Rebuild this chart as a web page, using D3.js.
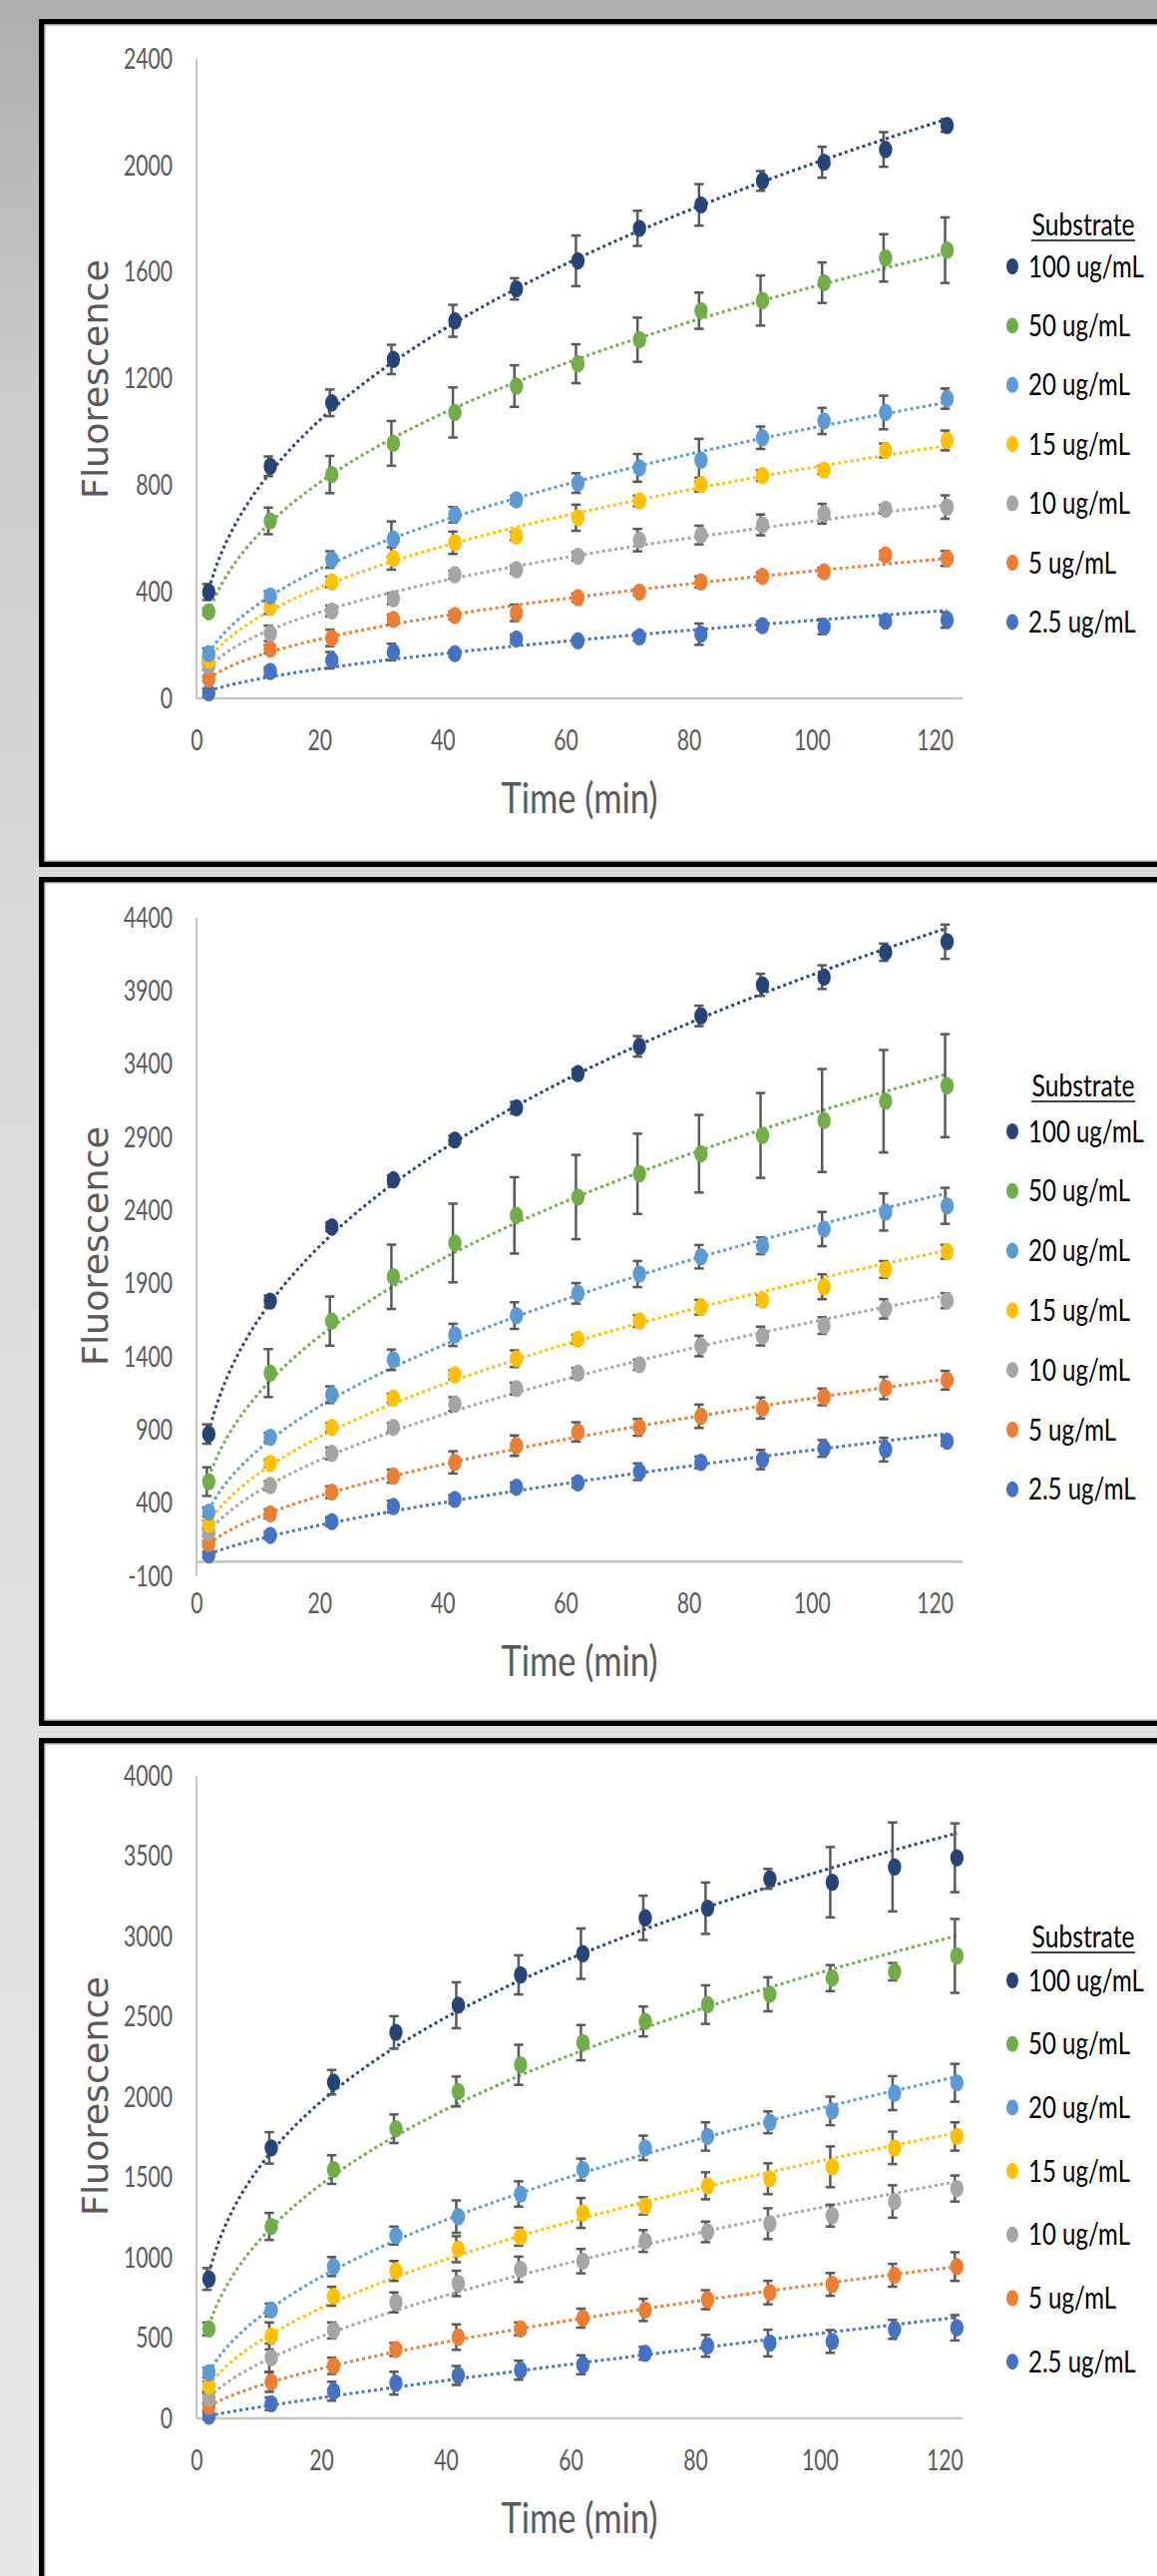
<!DOCTYPE html>
<html>
<head>
<meta charset="utf-8">
<script src="https://cdn.jsdelivr.net/npm/d3@7"></script>
<style>
  body { margin: 0; background: #d9d9d9; }
  svg { display: block; }
</style>
</head>
<body>
<svg id="chart"></svg>
<script>
// sampling times (min) and axis ticks
const times = [2, 12, 22, 32, 42, 52, 62, 72, 82, 92, 102, 112, 122];
const xTicks = [0, 20, 40, 60, 80, 100, 120];
const yTicks1 = [0, 400, 800, 1200, 1600, 2000, 2400];
const yTicks2 = [-100, 400, 900, 1400, 1900, 2400, 2900, 3400, 3900, 4400];
const yTicks3 = [0, 500, 1000, 1500, 2000, 2500, 3000, 3500, 4000];
const seriesNames = ['100 ug/mL', '50 ug/mL', '20 ug/mL', '15 ug/mL', '10 ug/mL', '5 ug/mL', '2.5 ug/mL'];
const seriesColors = ['#264478', '#70AD47', '#5B9BD5', '#FFC000', '#A5A5A5', '#ED7D31', '#4472C4'];

// panel 1 means / error
const p1_100 = [399, 871, 1109, 1272, 1417, 1537, 1642, 1764, 1852, 1942, 2012, 2060, 2150];
const p1_100e = [30, 37, 50, 55, 60, 40, 95, 66, 78, 37, 58, 65, 24];
const p1_50 = [325, 666, 840, 957, 1073, 1172, 1256, 1346, 1455, 1493, 1560, 1653, 1682];
const p1_50e = [12, 50, 70, 84, 94, 78, 73, 83, 68, 94, 76, 89, 123];
const p1_20 = [168, 384, 521, 598, 689, 745, 808, 865, 894, 978, 1041, 1073, 1125];
const p1_20e = [20, 18, 31, 66, 29, 15, 37, 52, 80, 42, 49, 63, 38];
const p1_15 = [143, 342, 437, 525, 584, 609, 678, 741, 802, 836, 857, 930, 968];
const p1_15e = [15, 25, 20, 42, 42, 15, 49, 20, 26, 20, 15, 26, 37];
const p1_10 = [122, 244, 328, 374, 464, 483, 533, 594, 613, 651, 693, 710, 718];
const p1_10e = [15, 29, 20, 20, 15, 15, 15, 42, 35, 39, 37, 16, 44];
const p1_5 = [73, 185, 227, 296, 311, 321, 378, 399, 437, 458, 475, 538, 525];
const p1_5e = [10, 15, 31, 18, 15, 31, 15, 12, 21, 15, 15, 15, 28];
const p1_25 = [21, 101, 143, 174, 168, 223, 216, 231, 241, 273, 269, 290, 294];
const p1_25e = [15, 15, 31, 31, 12, 15, 12, 15, 40, 15, 28, 12, 29];

// panel 2
const p2_100 = [872, 1781, 2288, 2610, 2882, 3102, 3336, 3522, 3730, 3942, 3995, 4165, 4237];
const p2_100e = [66, 38, 30, 30, 30, 40, 30, 70, 70, 76, 81, 59, 117];
const p2_50 = [547, 1289, 1644, 1947, 2178, 2367, 2492, 2651, 2788, 2913, 3015, 3147, 3253];
const p2_50e = [98, 164, 168, 220, 269, 261, 288, 274, 265, 290, 352, 350, 352];
const p2_20 = [339, 850, 1141, 1380, 1550, 1682, 1834, 1966, 2084, 2159, 2273, 2390, 2432];
const p2_20e = [30, 30, 57, 70, 76, 91, 70, 89, 80, 57, 117, 127, 123];
const p2_15 = [255, 672, 918, 1118, 1277, 1387, 1520, 1645, 1739, 1788, 1879, 1997, 2118];
const p2_15e = [25, 25, 30, 30, 30, 57, 30, 40, 50, 30, 85, 57, 47];
const p2_10 = [199, 520, 740, 918, 1077, 1183, 1289, 1346, 1474, 1542, 1614, 1728, 1784];
const p2_10e = [25, 30, 40, 30, 47, 40, 35, 35, 70, 64, 57, 66, 51];
const p2_5 = [123, 327, 475, 585, 679, 793, 887, 918, 994, 1050, 1126, 1187, 1240];
const p2_5e = [20, 30, 40, 45, 76, 70, 66, 57, 80, 72, 57, 76, 64];
const p2_25 = [47, 180, 274, 377, 426, 509, 539, 615, 679, 698, 774, 766, 823];
const p2_25e = [20, 25, 30, 40, 30, 30, 30, 57, 40, 66, 57, 81, 30];

// panel 3
const p3_100 = [868, 1684, 2093, 2403, 2572, 2761, 2893, 3116, 3176, 3359, 3338, 3433, 3490];
const p3_100e = [68, 98, 76, 101, 143, 122, 157, 138, 160, 62, 219, 277, 214];
const p3_50 = [557, 1195, 1549, 1803, 2035, 2201, 2339, 2471, 2576, 2640, 2741, 2781, 2879];
const p3_50e = [40, 84, 89, 89, 93, 125, 110, 93, 120, 106, 81, 54, 230];
const p3_20 = [284, 675, 945, 1138, 1256, 1397, 1549, 1684, 1755, 1843, 1914, 2025, 2089];
const p3_20e = [30, 40, 59, 56, 101, 79, 68, 76, 88, 68, 89, 106, 118];
const p3_15 = [199, 513, 760, 918, 1053, 1131, 1279, 1323, 1448, 1492, 1566, 1684, 1755];
const p3_15e = [30, 84, 59, 62, 81, 56, 93, 54, 84, 96, 127, 101, 88];
const p3_10 = [125, 378, 547, 722, 840, 928, 979, 1104, 1161, 1212, 1262, 1350, 1431];
const p3_10e = [30, 88, 50, 62, 79, 79, 76, 68, 64, 96, 68, 101, 81];
const p3_5 = [74, 226, 327, 429, 506, 557, 624, 675, 739, 783, 834, 891, 945];
const p3_5e = [25, 61, 51, 40, 79, 40, 59, 69, 59, 73, 71, 71, 89];
const p3_25 = [14, 91, 169, 219, 267, 300, 334, 405, 452, 469, 479, 554, 564];
const p3_25e = [20, 40, 59, 71, 59, 59, 59, 40, 68, 83, 71, 59, 79];

const W = 1160, H = 2582;
const FONT = 'Lato, "Open Sans", sans-serif';
const TITLE_FONT = '"DejaVu Sans", Verdana, sans-serif';

const panels = [
    { top: 19, bottom: 869, yDomain: [0, 2400], yRange: [700, 59], yTicks: yTicks1, xMax: 124.5,
      values: [p1_100, p1_50, p1_20, p1_15, p1_10, p1_5, p1_25],
      errors: [p1_100e, p1_50e, p1_20e, p1_15e, p1_10e, p1_5e, p1_25e],
      yTitleY: 380, legTitleY: 236, legY0: 267, legStep: 59.4 },
    { top: 879, bottom: 1730, yDomain: [-100, 4400], yRange: [1580, 920], yTicks: yTicks2, xMax: 124.5,
      values: [p2_100, p2_50, p2_20, p2_15, p2_10, p2_5, p2_25],
      errors: [p2_100e, p2_50e, p2_20e, p2_15e, p2_10e, p2_5e, p2_25e],
      yTitleY: 1249, legTitleY: 1099, legY0: 1134, legStep: 59.8 },
    { top: 1742, bottom: 2700, yDomain: [0, 4000], yRange: [2424, 1780], yTicks: yTicks3, xMax: 122.9,
      values: [p3_100, p3_50, p3_20, p3_15, p3_10, p3_5, p3_25],
      errors: [p3_100e, p3_50e, p3_20e, p3_15e, p3_10e, p3_5e, p3_25e],
      yTitleY: 2101, legTitleY: 1952, legY0: 1985, legStep: 63.7 }
];

const svg = d3.select('#chart').attr('width', W).attr('height', H);

// background
const grad = svg.append('defs').append('linearGradient').attr('id', 'bg')
    .attr('x1', 0).attr('y1', 0).attr('x2', 0).attr('y2', 1);
[[0, '#adadad'], [0.15, '#cbcbcb'], [0.35, '#d9d9d9'], [0.7, '#e1e1e1'], [1, '#e9e9e9']]
    .forEach(([o, c]) => grad.append('stop').attr('offset', o).attr('stop-color', c));
svg.append('rect').attr('width', W).attr('height', H).attr('fill', 'url(#bg)');

// width of a string in a given font, used to squeeze text like the narrow original
function measure(str, size, family) {
    const t = svg.append('text').attr('font-family', family).attr('font-size', size).text(str);
    const w = t.node().getComputedTextLength();
    t.remove();
    return w;
}
const kTick = 49 / measure('2400', 29, FONT);
const kLeg = 116 / measure('100 ug/mL', 30, FONT);
const kSub = 103 / measure('Substrate', 30, FONT);
const kTime = 157 / measure('Time (min)', 42, FONT);

function squeeze(sel, k) {
    sel.each(function () {
        const n = this.getComputedTextLength();
        d3.select(this).attr('textLength', n * k).attr('lengthAdjust', 'spacingAndGlyphs');
    });
}

function powerFit(xs, ys) {
    const lx = xs.map(Math.log), ly = ys.map(v => Math.log(Math.max(v, 1)));
    const mx = d3.mean(lx), my = d3.mean(ly);
    const b = d3.sum(lx, (v, i) => (v - mx) * (ly[i] - my)) / d3.sum(lx, v => (v - mx) * (v - mx));
    const a = Math.exp(my - b * mx);
    return x => a * Math.pow(x, b);
}

panels.forEach(p => {
    // frame
    svg.append('rect').attr('x', 41.75).attr('y', p.top + 2.75).attr('width', 1200)
        .attr('height', p.bottom - p.top - 5.5).attr('fill', '#fff')
        .attr('stroke', '#000').attr('stroke-width', 5.5);
    svg.append('rect').attr('x', 45.5).attr('y', p.top + 6.5).attr('width', 1200)
        .attr('height', p.bottom - p.top - 13).attr('fill', 'none')
        .attr('stroke', '#d4d4d4').attr('stroke-width', 1.5);

    const x = d3.scaleLinear().domain([0, p.xMax]).range([197, 965]);
    const y = d3.scaleLinear().domain(p.yDomain).range(p.yRange);
    const g = svg.append('g');

    // y axis
    const ya = g.append('g').attr('transform', 'translate(197,0)')
        .call(d3.axisLeft(y).tickValues(p.yTicks).tickSize(0).tickPadding(24).tickFormat(d => String(d)));
    ya.select('.domain').remove();
    ya.selectAll('text').attr('font-family', FONT).attr('font-size', 29).attr('fill', '#595959')
        .call(squeeze, kTick);
    g.append('line').attr('x1', 197).attr('x2', 197).attr('y1', p.yRange[1]).attr('y2', p.yRange[0])
        .attr('stroke', '#c6c6c6').attr('stroke-width', 2);

    // x axis at zero
    const y0 = y(0);
    const xa = g.append('g').attr('transform', `translate(0,${y0})`)
        .call(d3.axisBottom(x).tickValues(xTicks).tickSize(0).tickPadding(31.5));
    xa.select('.domain').remove();
    xa.selectAll('text').attr('font-family', FONT).attr('font-size', 29).attr('fill', '#595959')
        .call(squeeze, kTick);
    g.append('line').attr('x1', 197).attr('x2', 965).attr('y1', y0).attr('y2', y0)
        .attr('stroke', '#c6c6c6').attr('stroke-width', 2.6);

    // axis titles
    g.append('text').attr('x', 581).attr('y', y0 + 115).attr('text-anchor', 'middle')
        .attr('font-family', FONT).attr('font-size', 42).attr('fill', '#595959')
        .text('Time (min)').call(squeeze, kTime);
    g.append('text').attr('transform', `translate(108,${p.yTitleY}) rotate(-90)`)
        .attr('text-anchor', 'middle').attr('font-family', TITLE_FONT).attr('font-size', 35)
        .attr('fill', '#595959').attr('textLength', 240).attr('lengthAdjust', 'spacingAndGlyphs')
        .text('Fluorescence');

    // power trendlines (dotted)
    const line = d3.line().x(d => x(d[0])).y(d => y(d[1]));
    const xs = d3.range(2, 122.001, 0.5);
    p.values.forEach((vals, si) => {
        const f = powerFit(times, vals);
        g.append('path').attr('d', line(xs.map(t => [t, f(t)])))
            .attr('fill', 'none').attr('stroke', seriesColors[si]).attr('stroke-width', 3)
            .attr('stroke-dasharray', '3 3.2');
    });

    // error bars (Excel draws them a hair left of the markers)
    p.values.forEach((vals, si) => {
        const eg = g.append('g').attr('stroke', '#595959').attr('stroke-width', 2.5);
        vals.forEach((v, i) => {
            const e = p.errors[si][i], cx = x(times[i]) - 2;
            eg.append('line').attr('x1', cx).attr('x2', cx).attr('y1', y(v - e)).attr('y2', y(v + e));
            eg.append('line').attr('x1', cx - 4.7).attr('x2', cx + 4.7).attr('y1', y(v - e)).attr('y2', y(v - e));
            eg.append('line').attr('x1', cx - 4.7).attr('x2', cx + 4.7).attr('y1', y(v + e)).attr('y2', y(v + e));
        });
    });

    // markers
    p.values.slice().reverse().forEach((vals, ri) => {
        const si = p.values.length - 1 - ri;
        g.append('g').selectAll('ellipse').data(vals).join('ellipse')
            .attr('cx', (d, i) => x(times[i])).attr('cy', d => y(d))
            .attr('rx', 6.7).attr('ry', 8.7).attr('fill', seriesColors[si]);
    });

    // legend (squeezed with a transform so the box matches what is drawn)
    const lg = g.append('g');
    lg.append('g').attr('transform', `translate(1086,${p.legTitleY}) scale(${kSub},1)`)
        .append('text').attr('text-anchor', 'middle')
        .attr('font-family', FONT).attr('font-size', 30).attr('fill', '#000')
        .text('Substrate');
    lg.append('line').attr('x1', 1034).attr('x2', 1138).attr('y1', p.legTitleY + 5).attr('y2', p.legTitleY + 5)
        .attr('stroke', '#000').attr('stroke-width', 1.6);
    seriesNames.forEach((name, i) => {
        const cy = p.legY0 + i * p.legStep;
        lg.append('ellipse').attr('cx', 1015).attr('cy', cy).attr('rx', 6).attr('ry', 8)
            .attr('fill', seriesColors[i]);
        lg.append('g').attr('transform', `translate(1031,${cy + 10.5}) scale(${kLeg},1)`)
            .append('text').attr('font-family', FONT).attr('font-size', 30).attr('fill', '#000')
            .text(name);
    });
});
</script>
</body>
</html>
